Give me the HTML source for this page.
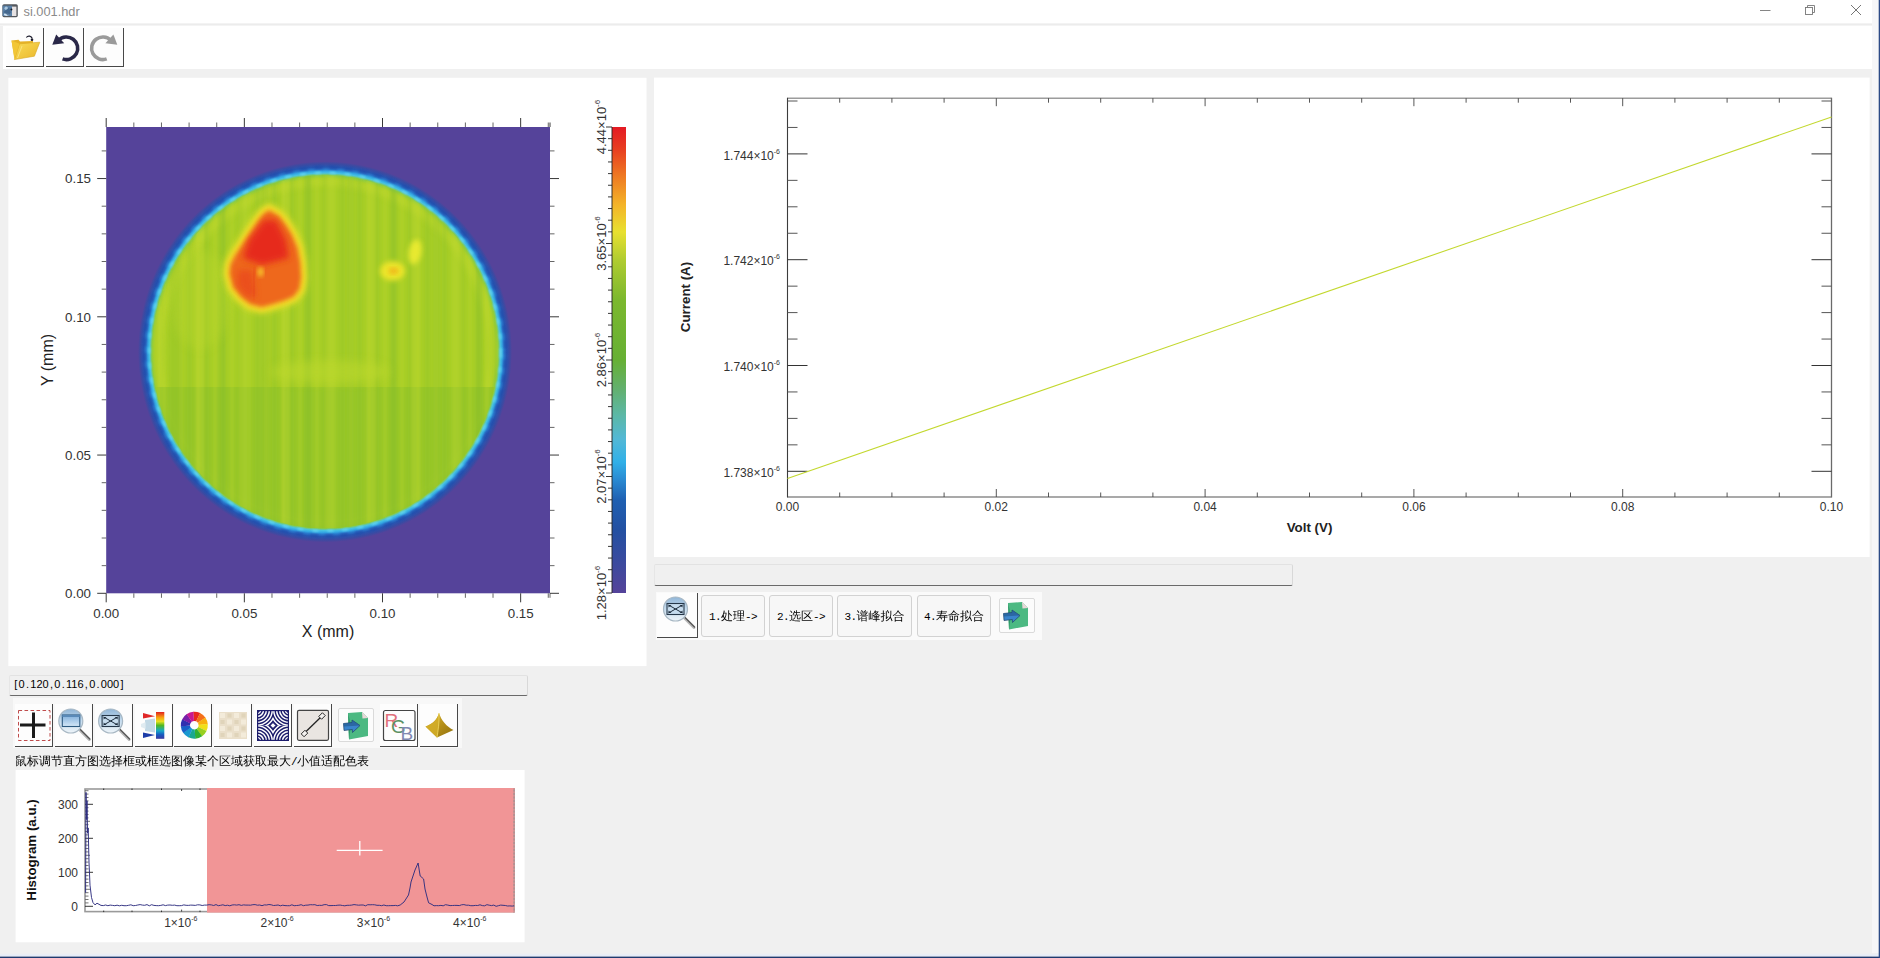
<!DOCTYPE html>
<html lang="zh"><head><meta charset="utf-8"><title>si.001.hdr</title>
<style>
html,body{margin:0;padding:0;}
body{width:1880px;height:958px;overflow:hidden;background:#f0f0f0;position:relative;font-family:"Liberation Sans",sans-serif;}
.abs{position:absolute;}
.white{background:#fff;}
.tb{position:absolute;background:#fdfdfd;border-right:1px solid #484848;border-bottom:1px solid #484848;box-sizing:border-box;}
.cj{font-family:"Liberation Sans","WenQuanYi Zen Hei",sans-serif;font-size:12px;color:#000;white-space:nowrap;}
.l{font-family:"Liberation Mono",monospace;font-size:11px;letter-spacing:-0.6px;}
.field{position:absolute;background:#f0f0f0;box-sizing:border-box;border-top:1px solid #e2e2e2;border-left:1px solid #e6e6e6;border-right:1px solid #d8d8d8;border-bottom:1px solid #6a6a6a;border-radius:2px;}
.pb{position:absolute;box-sizing:border-box;background:#f7f7f7;border:1px solid #d2d2d2;border-radius:3px;text-align:center;line-height:40px;}
i{font-style:normal;display:inline-block;width:5.6px;text-align:center;}
svg{position:absolute;left:0;top:0;overflow:visible;}
svg text{font-family:"Liberation Sans",sans-serif;}
</style></head><body>

<div class="abs white" style="left:0;top:0;width:1878px;height:23px;"></div>
<div class="abs" style="left:0;top:23px;width:1878px;height:3px;background:linear-gradient(#f6f6f6,#ececec 50%,#f8f8f8);"></div>
<div class="abs white" style="left:3px;top:26px;width:1872px;height:43px;"></div>
<div class="abs" style="left:23.5px;top:4.5px;font-size:12.8px;color:#8a8a8a;line-height:14px;letter-spacing:0px;">si.001.hdr</div>
<div class="tb" style="left:6px;top:28px;width:38px;height:39px;"></div>
<div class="tb" style="left:46px;top:28px;width:38px;height:39px;"></div>
<div class="tb" style="left:86px;top:28px;width:38px;height:39px;"></div>
<div class="abs" style="left:13px;top:698px;width:449px;height:50px;background:#f8f8f8;"></div>
<div class="tb" style="left:15px;top:704px;width:38px;height:43px;"></div>
<div class="tb" style="left:55px;top:704px;width:38px;height:43px;"></div>
<div class="tb" style="left:95px;top:704px;width:38px;height:43px;"></div>
<div class="tb" style="left:135px;top:704px;width:38px;height:43px;"></div>
<div class="tb" style="left:174px;top:704px;width:38px;height:43px;"></div>
<div class="tb" style="left:214px;top:704px;width:38px;height:43px;"></div>
<div class="tb" style="left:254px;top:704px;width:38px;height:43px;"></div>
<div class="tb" style="left:294px;top:704px;width:38px;height:43px;"></div>
<div class="tb" style="left:380px;top:704px;width:38px;height:43px;"></div>
<div class="tb" style="left:420px;top:704px;width:38px;height:43px;"></div>
<div class="abs" style="left:338px;top:708px;width:36px;height:34px;box-sizing:border-box;border:1px solid #dadada;border-radius:2px;background:#fcfcfc;"></div>
<svg width="1880" height="958" viewBox="0 0 1880 958"><rect x="8.35" y="77.8" width="638.2" height="588.3" fill="#fff"/><rect x="654.05" y="77.6" width="1215.6" height="479.4" fill="#fff"/><rect x="15.6" y="770" width="509" height="172.3" fill="#fff"/></svg>
<div class="field" style="left:9px;top:675px;width:519px;height:21px;"></div>
<div class="abs" style="left:13px;top:677px;font-size:11px;line-height:14px;color:#000;white-space:nowrap;"><i>[</i>0<i>.</i>120<i>,</i>0<i>.</i>116<i>,</i>0<i>.</i>000<i>]</i></div>
<div class="abs cj" style="left:15px;top:753px;line-height:16px;">鼠标调节直方图选择框或框选图像某个区域获取最大<span class="l">/</span>小值适配色表</div>
<div class="field" style="left:654px;top:564px;width:639px;height:22px;"></div>
<div class="abs" style="left:656px;top:592px;width:386px;height:48px;background:#fafafa;"></div>
<div class="tb" style="left:657px;top:593px;width:41px;height:45px;"></div>
<div class="pb cj" style="left:701px;top:595px;width:64px;height:42px;"><span class="l">1.</span>处理<span class="l">-&gt;</span></div>
<div class="pb cj" style="left:769px;top:595px;width:64px;height:42px;"><span class="l">2.</span>选区<span class="l">-&gt;</span></div>
<div class="pb cj" style="left:837px;top:595px;width:75px;height:42px;"><span class="l">3.</span>谱峰拟合</div>
<div class="pb cj" style="left:917px;top:595px;width:74px;height:42px;"><span class="l">4.</span>寿命拟合</div>
<div class="abs" style="left:999px;top:598px;width:36px;height:35px;box-sizing:border-box;border:1px solid #dadada;border-radius:2px;background:#fcfcfc;"></div>
<div class="abs" style="left:1872px;top:0;width:7px;height:958px;background:#f6f6f8;"></div>
<div class="abs" style="left:0;top:953px;width:1880px;height:3px;background:linear-gradient(#f0f0f0,#e4ecfa);"></div>
<svg width="1880" height="958" viewBox="0 0 1880 958">
<defs>
<linearGradient id="cbar" x1="0" y1="1" x2="0" y2="0">
<stop offset="0" stop-color="#55439a"/><stop offset="0.06" stop-color="#3d4a9e"/><stop offset="0.135" stop-color="#2350a2"/>
<stop offset="0.2" stop-color="#1f60b2"/><stop offset="0.243" stop-color="#2a8ad2"/><stop offset="0.281" stop-color="#30b0e8"/>
<stop offset="0.33" stop-color="#52b8d6"/><stop offset="0.382" stop-color="#5cb8a6"/><stop offset="0.436" stop-color="#62b070"/>
<stop offset="0.5" stop-color="#66b034"/><stop offset="0.63" stop-color="#7cb82e"/><stop offset="0.715" stop-color="#b0cc30"/>
<stop offset="0.775" stop-color="#e8e030"/><stop offset="0.833" stop-color="#f4b428"/><stop offset="0.897" stop-color="#ee7722"/>
<stop offset="0.95" stop-color="#e84020"/><stop offset="1" stop-color="#e41a24"/>
</linearGradient>
<filter id="b1" x="-20%" y="-20%" width="140%" height="140%"><feGaussianBlur stdDeviation="1"/></filter>
<filter id="b2" x="-20%" y="-20%" width="140%" height="140%"><feGaussianBlur stdDeviation="2"/></filter>
<filter id="b3" x="-30%" y="-30%" width="160%" height="160%"><feGaussianBlur stdDeviation="3"/></filter>
<filter id="b5" x="-30%" y="-30%" width="160%" height="160%"><feGaussianBlur stdDeviation="5"/></filter>
<clipPath id="hm"><rect x="106.2" y="127" width="443.8" height="466.3"/></clipPath>
<clipPath id="disc"><ellipse cx="325" cy="351.8" rx="173" ry="176.5"/></clipPath>
<pattern id="stripes" x="0" y="0" width="17" height="10" patternUnits="userSpaceOnUse"><rect x="0" y="0" width="5" height="10" fill="#86bc2a" opacity="0.22"/><rect x="9" y="0" width="4" height="10" fill="#c6dc2e" opacity="0.2"/></pattern>
<pattern id="stripes2" x="3" y="0" width="43" height="10" patternUnits="userSpaceOnUse"><rect x="0" y="0" width="7" height="10" fill="#84ba2a" opacity="0.2"/><rect x="21" y="0" width="8" height="10" fill="#cce02e" opacity="0.22"/></pattern>
<filter id="b25" x="-80%" y="-80%" width="260%" height="260%"><feGaussianBlur stdDeviation="2.6"/></filter>
<radialGradient id="rim" cx="0.5" cy="0.5" r="0.5">
<stop offset="0" stop-color="#a7ce27"/><stop offset="0.908" stop-color="#a7ce27"/><stop offset="0.926" stop-color="#86ca44"/><stop offset="0.938" stop-color="#46c2e6"/><stop offset="0.948" stop-color="#34a8e4"/>
<stop offset="0.958" stop-color="#2a78cc"/><stop offset="0.970" stop-color="#2656b2"/><stop offset="0.988" stop-color="#3c4aa2"/><stop offset="1" stop-color="#55439a"/>
</radialGradient>
<filter id="b15" x="-20%" y="-20%" width="140%" height="140%"><feGaussianBlur stdDeviation="1.4"/></filter>
</defs>
<rect x="106.2" y="127" width="443.8" height="466.29999999999995" fill="#55439a"/>
<g clip-path="url(#hm)">
<ellipse cx="325" cy="351.8" rx="187" ry="190.5" fill="url(#rim)"/>
<ellipse cx="325" cy="351.8" rx="175.6" ry="179" fill="none" stroke="#66d6f4" stroke-width="2.6" stroke-dasharray="6 9" opacity="0.8" filter="url(#b1)"/>
<ellipse cx="325" cy="351.8" rx="180.5" ry="184" fill="none" stroke="#2346a8" stroke-width="3.5" stroke-dasharray="8 7" stroke-dashoffset="7" opacity="0.55" filter="url(#b1)"/>
<ellipse cx="325.5" cy="351.8" rx="167" ry="170" fill="none" stroke="#c6dc30" stroke-width="7" opacity="0.5" filter="url(#b3)"/>
<g clip-path="url(#disc)"><rect x="106" y="387" width="444" height="210" fill="#95c629" opacity="0.85"/>
<g filter="url(#b1)"><rect x="106" y="127" width="444" height="466" fill="url(#stripes)"/>
<rect x="106" y="127" width="444" height="466" fill="url(#stripes2)"/></g>
<ellipse cx="330" cy="372" rx="60" ry="12" fill="#c0da2e" opacity="0.5" filter="url(#b5)"/>
<ellipse cx="200" cy="300" rx="30" ry="50" fill="#bcd82e" opacity="0.35" filter="url(#b5)"/>
</g>
<path d="M269.1,210.2 L278.5,215.8 L286,225.2 L291.7,234.6 L297.3,247.7 L300.1,262.8 L301,277.8 L299.2,289.1 L293.5,296.6 L284.1,300.4 L272.9,304.1 L261.6,307 L250.3,304.1 L240.9,296.6 L233.4,287.2 L229.6,274.1 L230.6,264.7 L235.3,255.3 L242.8,244 L250.3,232.7 L257.8,221.4 L263.5,213.9 Z" fill="#e8e02c" stroke="#e8e02c" stroke-width="13" stroke-linejoin="round" filter="url(#b3)" opacity="0.95"/>
<path d="M269.1,210.2 L278.5,215.8 L286,225.2 L291.7,234.6 L297.3,247.7 L300.1,262.8 L301,277.8 L299.2,289.1 L293.5,296.6 L284.1,300.4 L272.9,304.1 L261.6,307 L250.3,304.1 L240.9,296.6 L233.4,287.2 L229.6,274.1 L230.6,264.7 L235.3,255.3 L242.8,244 L250.3,232.7 L257.8,221.4 L263.5,213.9 Z" fill="#f2d428" stroke="#f2d428" stroke-width="7.5" stroke-linejoin="round" filter="url(#b2)"/>
<path d="M269.1,210.2 L278.5,215.8 L286,225.2 L291.7,234.6 L297.3,247.7 L300.1,262.8 L301,277.8 L299.2,289.1 L293.5,296.6 L284.1,300.4 L272.9,304.1 L261.6,307 L250.3,304.1 L240.9,296.6 L233.4,287.2 L229.6,274.1 L230.6,264.7 L235.3,255.3 L242.8,244 L250.3,232.7 L257.8,221.4 L263.5,213.9 Z" fill="#ee681e" filter="url(#b2)"/>
<path d="M264,220 L276,220 L286,240 L289,258 L262,265 L243,258 L249,240 Z" fill="#e62c1c" filter="url(#b3)"/>
<path d="M238,270 L252,270 L256,297 L247,297 L237,285 Z" fill="#ea4a1c" opacity="0.8" filter="url(#b3)"/>
<path d="M253.5,268 L254,298" stroke="#e23a1c" stroke-width="3" opacity="0.45" filter="url(#b2)"/>
<ellipse cx="260.6" cy="272" rx="3" ry="5" fill="#f6c02a" filter="url(#b2)"/>
<ellipse cx="392.5" cy="271" rx="12.5" ry="10" fill="#f2e62a" opacity="0.92" filter="url(#b25)"/>
<ellipse cx="393.5" cy="271" rx="5" ry="3.4" fill="#f0b81c" opacity="0.9" filter="url(#b2)"/>
<ellipse cx="415" cy="252" rx="6.5" ry="12.5" fill="#f2ee30" transform="rotate(10 415 252)" opacity="0.85" filter="url(#b25)"/>
</g>
<line x1="106.20" y1="593.30" x2="106.20" y2="602.30" stroke="#222" stroke-width="0.9"/>
<line x1="106.20" y1="127.00" x2="106.20" y2="118.00" stroke="#222" stroke-width="0.9"/>
<line x1="133.83" y1="593.30" x2="133.83" y2="597.80" stroke="#555" stroke-width="0.9"/>
<line x1="133.83" y1="127.00" x2="133.83" y2="122.50" stroke="#555" stroke-width="0.9"/>
<line x1="161.46" y1="593.30" x2="161.46" y2="597.80" stroke="#555" stroke-width="0.9"/>
<line x1="161.46" y1="127.00" x2="161.46" y2="122.50" stroke="#555" stroke-width="0.9"/>
<line x1="189.09" y1="593.30" x2="189.09" y2="597.80" stroke="#555" stroke-width="0.9"/>
<line x1="189.09" y1="127.00" x2="189.09" y2="122.50" stroke="#555" stroke-width="0.9"/>
<line x1="216.72" y1="593.30" x2="216.72" y2="597.80" stroke="#555" stroke-width="0.9"/>
<line x1="216.72" y1="127.00" x2="216.72" y2="122.50" stroke="#555" stroke-width="0.9"/>
<line x1="244.35" y1="593.30" x2="244.35" y2="602.30" stroke="#222" stroke-width="0.9"/>
<line x1="244.35" y1="127.00" x2="244.35" y2="118.00" stroke="#222" stroke-width="0.9"/>
<line x1="271.98" y1="593.30" x2="271.98" y2="597.80" stroke="#555" stroke-width="0.9"/>
<line x1="271.98" y1="127.00" x2="271.98" y2="122.50" stroke="#555" stroke-width="0.9"/>
<line x1="299.61" y1="593.30" x2="299.61" y2="597.80" stroke="#555" stroke-width="0.9"/>
<line x1="299.61" y1="127.00" x2="299.61" y2="122.50" stroke="#555" stroke-width="0.9"/>
<line x1="327.24" y1="593.30" x2="327.24" y2="597.80" stroke="#555" stroke-width="0.9"/>
<line x1="327.24" y1="127.00" x2="327.24" y2="122.50" stroke="#555" stroke-width="0.9"/>
<line x1="354.87" y1="593.30" x2="354.87" y2="597.80" stroke="#555" stroke-width="0.9"/>
<line x1="354.87" y1="127.00" x2="354.87" y2="122.50" stroke="#555" stroke-width="0.9"/>
<line x1="382.50" y1="593.30" x2="382.50" y2="602.30" stroke="#222" stroke-width="0.9"/>
<line x1="382.50" y1="127.00" x2="382.50" y2="118.00" stroke="#222" stroke-width="0.9"/>
<line x1="410.13" y1="593.30" x2="410.13" y2="597.80" stroke="#555" stroke-width="0.9"/>
<line x1="410.13" y1="127.00" x2="410.13" y2="122.50" stroke="#555" stroke-width="0.9"/>
<line x1="437.76" y1="593.30" x2="437.76" y2="597.80" stroke="#555" stroke-width="0.9"/>
<line x1="437.76" y1="127.00" x2="437.76" y2="122.50" stroke="#555" stroke-width="0.9"/>
<line x1="465.39" y1="593.30" x2="465.39" y2="597.80" stroke="#555" stroke-width="0.9"/>
<line x1="465.39" y1="127.00" x2="465.39" y2="122.50" stroke="#555" stroke-width="0.9"/>
<line x1="493.02" y1="593.30" x2="493.02" y2="597.80" stroke="#555" stroke-width="0.9"/>
<line x1="493.02" y1="127.00" x2="493.02" y2="122.50" stroke="#555" stroke-width="0.9"/>
<line x1="520.65" y1="593.30" x2="520.65" y2="602.30" stroke="#222" stroke-width="0.9"/>
<line x1="520.65" y1="127.00" x2="520.65" y2="118.00" stroke="#222" stroke-width="0.9"/>
<line x1="548.28" y1="593.30" x2="548.28" y2="597.80" stroke="#555" stroke-width="0.9"/>
<line x1="548.28" y1="127.00" x2="548.28" y2="122.50" stroke="#555" stroke-width="0.9"/>
<line x1="550.00" y1="593.30" x2="550.00" y2="597.80" stroke="#555" stroke-width="0.9"/>
<line x1="550.00" y1="127.00" x2="550.00" y2="122.50" stroke="#222" stroke-width="0.9"/>
<line x1="97.20" y1="593.30" x2="106.20" y2="593.30" stroke="#222" stroke-width="0.9"/>
<line x1="550.00" y1="593.30" x2="559.00" y2="593.30" stroke="#222" stroke-width="0.9"/>
<line x1="101.70" y1="565.65" x2="106.20" y2="565.65" stroke="#555" stroke-width="0.9"/>
<line x1="550.00" y1="565.65" x2="554.50" y2="565.65" stroke="#555" stroke-width="0.9"/>
<line x1="101.70" y1="538.00" x2="106.20" y2="538.00" stroke="#555" stroke-width="0.9"/>
<line x1="550.00" y1="538.00" x2="554.50" y2="538.00" stroke="#555" stroke-width="0.9"/>
<line x1="101.70" y1="510.35" x2="106.20" y2="510.35" stroke="#555" stroke-width="0.9"/>
<line x1="550.00" y1="510.35" x2="554.50" y2="510.35" stroke="#555" stroke-width="0.9"/>
<line x1="101.70" y1="482.70" x2="106.20" y2="482.70" stroke="#555" stroke-width="0.9"/>
<line x1="550.00" y1="482.70" x2="554.50" y2="482.70" stroke="#555" stroke-width="0.9"/>
<line x1="97.20" y1="455.05" x2="106.20" y2="455.05" stroke="#222" stroke-width="0.9"/>
<line x1="550.00" y1="455.05" x2="559.00" y2="455.05" stroke="#222" stroke-width="0.9"/>
<line x1="101.70" y1="427.40" x2="106.20" y2="427.40" stroke="#555" stroke-width="0.9"/>
<line x1="550.00" y1="427.40" x2="554.50" y2="427.40" stroke="#555" stroke-width="0.9"/>
<line x1="101.70" y1="399.75" x2="106.20" y2="399.75" stroke="#555" stroke-width="0.9"/>
<line x1="550.00" y1="399.75" x2="554.50" y2="399.75" stroke="#555" stroke-width="0.9"/>
<line x1="101.70" y1="372.10" x2="106.20" y2="372.10" stroke="#555" stroke-width="0.9"/>
<line x1="550.00" y1="372.10" x2="554.50" y2="372.10" stroke="#555" stroke-width="0.9"/>
<line x1="101.70" y1="344.45" x2="106.20" y2="344.45" stroke="#555" stroke-width="0.9"/>
<line x1="550.00" y1="344.45" x2="554.50" y2="344.45" stroke="#555" stroke-width="0.9"/>
<line x1="97.20" y1="316.80" x2="106.20" y2="316.80" stroke="#222" stroke-width="0.9"/>
<line x1="550.00" y1="316.80" x2="559.00" y2="316.80" stroke="#222" stroke-width="0.9"/>
<line x1="101.70" y1="289.15" x2="106.20" y2="289.15" stroke="#555" stroke-width="0.9"/>
<line x1="550.00" y1="289.15" x2="554.50" y2="289.15" stroke="#555" stroke-width="0.9"/>
<line x1="101.70" y1="261.50" x2="106.20" y2="261.50" stroke="#555" stroke-width="0.9"/>
<line x1="550.00" y1="261.50" x2="554.50" y2="261.50" stroke="#555" stroke-width="0.9"/>
<line x1="101.70" y1="233.85" x2="106.20" y2="233.85" stroke="#555" stroke-width="0.9"/>
<line x1="550.00" y1="233.85" x2="554.50" y2="233.85" stroke="#555" stroke-width="0.9"/>
<line x1="101.70" y1="206.20" x2="106.20" y2="206.20" stroke="#555" stroke-width="0.9"/>
<line x1="550.00" y1="206.20" x2="554.50" y2="206.20" stroke="#555" stroke-width="0.9"/>
<line x1="97.20" y1="178.55" x2="106.20" y2="178.55" stroke="#222" stroke-width="0.9"/>
<line x1="550.00" y1="178.55" x2="559.00" y2="178.55" stroke="#222" stroke-width="0.9"/>
<line x1="101.70" y1="150.90" x2="106.20" y2="150.90" stroke="#555" stroke-width="0.9"/>
<line x1="550.00" y1="150.90" x2="554.50" y2="150.90" stroke="#555" stroke-width="0.9"/>
<text x="106.2" y="617.5" font-size="13.33" text-anchor="middle" fill="#333" font-weight="normal" >0.00</text>
<text x="91" y="598.1" font-size="13.33" text-anchor="end" fill="#333" font-weight="normal" >0.00</text>
<text x="244.4" y="617.5" font-size="13.33" text-anchor="middle" fill="#333" font-weight="normal" >0.05</text>
<text x="91" y="459.8" font-size="13.33" text-anchor="end" fill="#333" font-weight="normal" >0.05</text>
<text x="382.5" y="617.5" font-size="13.33" text-anchor="middle" fill="#333" font-weight="normal" >0.10</text>
<text x="91" y="321.6" font-size="13.33" text-anchor="end" fill="#333" font-weight="normal" >0.10</text>
<text x="520.7" y="617.5" font-size="13.33" text-anchor="middle" fill="#333" font-weight="normal" >0.15</text>
<text x="91" y="183.3" font-size="13.33" text-anchor="end" fill="#333" font-weight="normal" >0.15</text>
<text x="328" y="636.5" font-size="16" text-anchor="middle" fill="#222" font-weight="normal" >X (mm)</text>
<text transform="translate(53,360) rotate(-90)" font-size="16" text-anchor="middle" fill="#222">Y (mm)</text>
<rect x="612" y="127" width="14" height="466" fill="url(#cbar)"/>
<line x1="612.00" y1="127.00" x2="612.00" y2="593.00" stroke="#222" stroke-width="0.9"/>
<line x1="606.00" y1="127.00" x2="612.00" y2="127.00" stroke="#222" stroke-width="0.9"/>
<line x1="608.00" y1="138.65" x2="612.00" y2="138.65" stroke="#222" stroke-width="0.9"/>
<line x1="608.00" y1="150.30" x2="612.00" y2="150.30" stroke="#222" stroke-width="0.9"/>
<line x1="608.00" y1="161.95" x2="612.00" y2="161.95" stroke="#222" stroke-width="0.9"/>
<line x1="608.00" y1="173.60" x2="612.00" y2="173.60" stroke="#222" stroke-width="0.9"/>
<line x1="608.00" y1="185.25" x2="612.00" y2="185.25" stroke="#222" stroke-width="0.9"/>
<line x1="608.00" y1="196.90" x2="612.00" y2="196.90" stroke="#222" stroke-width="0.9"/>
<line x1="608.00" y1="208.55" x2="612.00" y2="208.55" stroke="#222" stroke-width="0.9"/>
<line x1="608.00" y1="220.20" x2="612.00" y2="220.20" stroke="#222" stroke-width="0.9"/>
<line x1="608.00" y1="231.85" x2="612.00" y2="231.85" stroke="#222" stroke-width="0.9"/>
<line x1="606.00" y1="243.50" x2="612.00" y2="243.50" stroke="#222" stroke-width="0.9"/>
<line x1="608.00" y1="255.15" x2="612.00" y2="255.15" stroke="#222" stroke-width="0.9"/>
<line x1="608.00" y1="266.80" x2="612.00" y2="266.80" stroke="#222" stroke-width="0.9"/>
<line x1="608.00" y1="278.45" x2="612.00" y2="278.45" stroke="#222" stroke-width="0.9"/>
<line x1="608.00" y1="290.10" x2="612.00" y2="290.10" stroke="#222" stroke-width="0.9"/>
<line x1="608.00" y1="301.75" x2="612.00" y2="301.75" stroke="#222" stroke-width="0.9"/>
<line x1="608.00" y1="313.40" x2="612.00" y2="313.40" stroke="#222" stroke-width="0.9"/>
<line x1="608.00" y1="325.05" x2="612.00" y2="325.05" stroke="#222" stroke-width="0.9"/>
<line x1="608.00" y1="336.70" x2="612.00" y2="336.70" stroke="#222" stroke-width="0.9"/>
<line x1="608.00" y1="348.35" x2="612.00" y2="348.35" stroke="#222" stroke-width="0.9"/>
<line x1="606.00" y1="360.00" x2="612.00" y2="360.00" stroke="#222" stroke-width="0.9"/>
<line x1="608.00" y1="371.65" x2="612.00" y2="371.65" stroke="#222" stroke-width="0.9"/>
<line x1="608.00" y1="383.30" x2="612.00" y2="383.30" stroke="#222" stroke-width="0.9"/>
<line x1="608.00" y1="394.95" x2="612.00" y2="394.95" stroke="#222" stroke-width="0.9"/>
<line x1="608.00" y1="406.60" x2="612.00" y2="406.60" stroke="#222" stroke-width="0.9"/>
<line x1="608.00" y1="418.25" x2="612.00" y2="418.25" stroke="#222" stroke-width="0.9"/>
<line x1="608.00" y1="429.90" x2="612.00" y2="429.90" stroke="#222" stroke-width="0.9"/>
<line x1="608.00" y1="441.55" x2="612.00" y2="441.55" stroke="#222" stroke-width="0.9"/>
<line x1="608.00" y1="453.20" x2="612.00" y2="453.20" stroke="#222" stroke-width="0.9"/>
<line x1="608.00" y1="464.85" x2="612.00" y2="464.85" stroke="#222" stroke-width="0.9"/>
<line x1="606.00" y1="476.50" x2="612.00" y2="476.50" stroke="#222" stroke-width="0.9"/>
<line x1="608.00" y1="488.15" x2="612.00" y2="488.15" stroke="#222" stroke-width="0.9"/>
<line x1="608.00" y1="499.80" x2="612.00" y2="499.80" stroke="#222" stroke-width="0.9"/>
<line x1="608.00" y1="511.45" x2="612.00" y2="511.45" stroke="#222" stroke-width="0.9"/>
<line x1="608.00" y1="523.10" x2="612.00" y2="523.10" stroke="#222" stroke-width="0.9"/>
<line x1="608.00" y1="534.75" x2="612.00" y2="534.75" stroke="#222" stroke-width="0.9"/>
<line x1="608.00" y1="546.40" x2="612.00" y2="546.40" stroke="#222" stroke-width="0.9"/>
<line x1="608.00" y1="558.05" x2="612.00" y2="558.05" stroke="#222" stroke-width="0.9"/>
<line x1="608.00" y1="569.70" x2="612.00" y2="569.70" stroke="#222" stroke-width="0.9"/>
<line x1="608.00" y1="581.35" x2="612.00" y2="581.35" stroke="#222" stroke-width="0.9"/>
<line x1="606.00" y1="593.00" x2="612.00" y2="593.00" stroke="#222" stroke-width="0.9"/>
<text transform="translate(606.2,127.0) rotate(-90)" font-size="13" text-anchor="middle" fill="#333">4.44×10<tspan font-size="8" dy="-6">-6</tspan></text>
<text transform="translate(606.2,243.5) rotate(-90)" font-size="13" text-anchor="middle" fill="#333">3.65×10<tspan font-size="8" dy="-6">-6</tspan></text>
<text transform="translate(606.2,360.0) rotate(-90)" font-size="13" text-anchor="middle" fill="#333">2.86×10<tspan font-size="8" dy="-6">-6</tspan></text>
<text transform="translate(606.2,476.5) rotate(-90)" font-size="13" text-anchor="middle" fill="#333">2.07×10<tspan font-size="8" dy="-6">-6</tspan></text>
<text transform="translate(606.2,593.0) rotate(-90)" font-size="13" text-anchor="middle" fill="#333">1.28×10<tspan font-size="8" dy="-6">-6</tspan></text>
<line x1="787.50" y1="98.20" x2="1831.50" y2="98.20" stroke="#9c9c9c" stroke-width="1.4"/>
<line x1="787.50" y1="497.00" x2="1831.50" y2="497.00" stroke="#8c8c8c" stroke-width="1.5"/>
<line x1="787.50" y1="97.70" x2="787.50" y2="497.60" stroke="#3c3c3c" stroke-width="1.1"/>
<line x1="1831.50" y1="97.70" x2="1831.50" y2="497.60" stroke="#6a6a6a" stroke-width="1.3"/>
<line x1="839.70" y1="497.00" x2="839.70" y2="492.50" stroke="#444" stroke-width="0.9"/>
<line x1="839.70" y1="98.20" x2="839.70" y2="102.70" stroke="#444" stroke-width="0.9"/>
<line x1="891.90" y1="497.00" x2="891.90" y2="492.50" stroke="#444" stroke-width="0.9"/>
<line x1="891.90" y1="98.20" x2="891.90" y2="102.70" stroke="#444" stroke-width="0.9"/>
<line x1="944.10" y1="497.00" x2="944.10" y2="492.50" stroke="#444" stroke-width="0.9"/>
<line x1="944.10" y1="98.20" x2="944.10" y2="102.70" stroke="#444" stroke-width="0.9"/>
<line x1="996.30" y1="497.00" x2="996.30" y2="489.00" stroke="#444" stroke-width="0.9"/>
<line x1="996.30" y1="98.20" x2="996.30" y2="106.20" stroke="#444" stroke-width="0.9"/>
<line x1="1048.50" y1="497.00" x2="1048.50" y2="492.50" stroke="#444" stroke-width="0.9"/>
<line x1="1048.50" y1="98.20" x2="1048.50" y2="102.70" stroke="#444" stroke-width="0.9"/>
<line x1="1100.70" y1="497.00" x2="1100.70" y2="492.50" stroke="#444" stroke-width="0.9"/>
<line x1="1100.70" y1="98.20" x2="1100.70" y2="102.70" stroke="#444" stroke-width="0.9"/>
<line x1="1152.90" y1="497.00" x2="1152.90" y2="492.50" stroke="#444" stroke-width="0.9"/>
<line x1="1152.90" y1="98.20" x2="1152.90" y2="102.70" stroke="#444" stroke-width="0.9"/>
<line x1="1205.10" y1="497.00" x2="1205.10" y2="489.00" stroke="#444" stroke-width="0.9"/>
<line x1="1205.10" y1="98.20" x2="1205.10" y2="106.20" stroke="#444" stroke-width="0.9"/>
<line x1="1257.30" y1="497.00" x2="1257.30" y2="492.50" stroke="#444" stroke-width="0.9"/>
<line x1="1257.30" y1="98.20" x2="1257.30" y2="102.70" stroke="#444" stroke-width="0.9"/>
<line x1="1309.50" y1="497.00" x2="1309.50" y2="492.50" stroke="#444" stroke-width="0.9"/>
<line x1="1309.50" y1="98.20" x2="1309.50" y2="102.70" stroke="#444" stroke-width="0.9"/>
<line x1="1361.70" y1="497.00" x2="1361.70" y2="492.50" stroke="#444" stroke-width="0.9"/>
<line x1="1361.70" y1="98.20" x2="1361.70" y2="102.70" stroke="#444" stroke-width="0.9"/>
<line x1="1413.90" y1="497.00" x2="1413.90" y2="489.00" stroke="#444" stroke-width="0.9"/>
<line x1="1413.90" y1="98.20" x2="1413.90" y2="106.20" stroke="#444" stroke-width="0.9"/>
<line x1="1466.10" y1="497.00" x2="1466.10" y2="492.50" stroke="#444" stroke-width="0.9"/>
<line x1="1466.10" y1="98.20" x2="1466.10" y2="102.70" stroke="#444" stroke-width="0.9"/>
<line x1="1518.30" y1="497.00" x2="1518.30" y2="492.50" stroke="#444" stroke-width="0.9"/>
<line x1="1518.30" y1="98.20" x2="1518.30" y2="102.70" stroke="#444" stroke-width="0.9"/>
<line x1="1570.50" y1="497.00" x2="1570.50" y2="492.50" stroke="#444" stroke-width="0.9"/>
<line x1="1570.50" y1="98.20" x2="1570.50" y2="102.70" stroke="#444" stroke-width="0.9"/>
<line x1="1622.70" y1="497.00" x2="1622.70" y2="489.00" stroke="#444" stroke-width="0.9"/>
<line x1="1622.70" y1="98.20" x2="1622.70" y2="106.20" stroke="#444" stroke-width="0.9"/>
<line x1="1674.90" y1="497.00" x2="1674.90" y2="492.50" stroke="#444" stroke-width="0.9"/>
<line x1="1674.90" y1="98.20" x2="1674.90" y2="102.70" stroke="#444" stroke-width="0.9"/>
<line x1="1727.10" y1="497.00" x2="1727.10" y2="492.50" stroke="#444" stroke-width="0.9"/>
<line x1="1727.10" y1="98.20" x2="1727.10" y2="102.70" stroke="#444" stroke-width="0.9"/>
<line x1="1779.30" y1="497.00" x2="1779.30" y2="492.50" stroke="#444" stroke-width="0.9"/>
<line x1="1779.30" y1="98.20" x2="1779.30" y2="102.70" stroke="#444" stroke-width="0.9"/>
<line x1="787.50" y1="101.00" x2="797.50" y2="101.00" stroke="#555" stroke-width="1.0"/>
<line x1="1831.50" y1="101.00" x2="1821.50" y2="101.00" stroke="#555" stroke-width="1.0"/>
<line x1="787.50" y1="127.45" x2="797.50" y2="127.45" stroke="#555" stroke-width="1.0"/>
<line x1="1831.50" y1="127.45" x2="1821.50" y2="127.45" stroke="#555" stroke-width="1.0"/>
<line x1="787.50" y1="153.90" x2="807.50" y2="153.90" stroke="#333" stroke-width="1.0"/>
<line x1="1831.50" y1="153.90" x2="1811.50" y2="153.90" stroke="#333" stroke-width="1.0"/>
<line x1="787.50" y1="180.35" x2="797.50" y2="180.35" stroke="#555" stroke-width="1.0"/>
<line x1="1831.50" y1="180.35" x2="1821.50" y2="180.35" stroke="#555" stroke-width="1.0"/>
<line x1="787.50" y1="206.80" x2="797.50" y2="206.80" stroke="#555" stroke-width="1.0"/>
<line x1="1831.50" y1="206.80" x2="1821.50" y2="206.80" stroke="#555" stroke-width="1.0"/>
<line x1="787.50" y1="233.25" x2="797.50" y2="233.25" stroke="#555" stroke-width="1.0"/>
<line x1="1831.50" y1="233.25" x2="1821.50" y2="233.25" stroke="#555" stroke-width="1.0"/>
<line x1="787.50" y1="259.70" x2="807.50" y2="259.70" stroke="#333" stroke-width="1.0"/>
<line x1="1831.50" y1="259.70" x2="1811.50" y2="259.70" stroke="#333" stroke-width="1.0"/>
<line x1="787.50" y1="286.15" x2="797.50" y2="286.15" stroke="#555" stroke-width="1.0"/>
<line x1="1831.50" y1="286.15" x2="1821.50" y2="286.15" stroke="#555" stroke-width="1.0"/>
<line x1="787.50" y1="312.60" x2="797.50" y2="312.60" stroke="#555" stroke-width="1.0"/>
<line x1="1831.50" y1="312.60" x2="1821.50" y2="312.60" stroke="#555" stroke-width="1.0"/>
<line x1="787.50" y1="339.05" x2="797.50" y2="339.05" stroke="#555" stroke-width="1.0"/>
<line x1="1831.50" y1="339.05" x2="1821.50" y2="339.05" stroke="#555" stroke-width="1.0"/>
<line x1="787.50" y1="365.50" x2="807.50" y2="365.50" stroke="#333" stroke-width="1.0"/>
<line x1="1831.50" y1="365.50" x2="1811.50" y2="365.50" stroke="#333" stroke-width="1.0"/>
<line x1="787.50" y1="391.95" x2="797.50" y2="391.95" stroke="#555" stroke-width="1.0"/>
<line x1="1831.50" y1="391.95" x2="1821.50" y2="391.95" stroke="#555" stroke-width="1.0"/>
<line x1="787.50" y1="418.40" x2="797.50" y2="418.40" stroke="#555" stroke-width="1.0"/>
<line x1="1831.50" y1="418.40" x2="1821.50" y2="418.40" stroke="#555" stroke-width="1.0"/>
<line x1="787.50" y1="444.85" x2="797.50" y2="444.85" stroke="#555" stroke-width="1.0"/>
<line x1="1831.50" y1="444.85" x2="1821.50" y2="444.85" stroke="#555" stroke-width="1.0"/>
<line x1="787.50" y1="471.30" x2="807.50" y2="471.30" stroke="#333" stroke-width="1.0"/>
<line x1="1831.50" y1="471.30" x2="1811.50" y2="471.30" stroke="#333" stroke-width="1.0"/>
<text x="780" y="159.5" font-size="12" text-anchor="end" fill="#333">1.744×10<tspan font-size="7" dy="-6">-6</tspan></text>
<text x="780" y="265.3" font-size="12" text-anchor="end" fill="#333">1.742×10<tspan font-size="7" dy="-6">-6</tspan></text>
<text x="780" y="371.1" font-size="12" text-anchor="end" fill="#333">1.740×10<tspan font-size="7" dy="-6">-6</tspan></text>
<text x="780" y="476.9" font-size="12" text-anchor="end" fill="#333">1.738×10<tspan font-size="7" dy="-6">-6</tspan></text>
<text x="787.5" y="510.6" font-size="12" text-anchor="middle" fill="#333" font-weight="normal" >0.00</text>
<text x="996.3" y="510.6" font-size="12" text-anchor="middle" fill="#333" font-weight="normal" >0.02</text>
<text x="1205.1" y="510.6" font-size="12" text-anchor="middle" fill="#333" font-weight="normal" >0.04</text>
<text x="1413.9" y="510.6" font-size="12" text-anchor="middle" fill="#333" font-weight="normal" >0.06</text>
<text x="1622.7" y="510.6" font-size="12" text-anchor="middle" fill="#333" font-weight="normal" >0.08</text>
<text x="1831.5" y="510.6" font-size="12" text-anchor="middle" fill="#333" font-weight="normal" >0.10</text>
<text x="1309.5" y="531.8" font-size="13.33" text-anchor="middle" fill="#222" font-weight="bold" >Volt (V)</text>
<text transform="translate(689.5,297) rotate(-90)" font-size="13.33" text-anchor="middle" fill="#222" font-weight="bold">Current (A)</text>
<line x1="787.50" y1="478.50" x2="1831.50" y2="117.00" stroke="#c3d82e" stroke-width="1.1"/>
<rect x="85" y="789" width="429" height="122.60000000000002" fill="none" stroke="#9a9a9a" stroke-width="1.6"/>
<rect x="207" y="788" width="307.6" height="124.60000000000002" fill="#f19596"/>
<line x1="514.00" y1="788.00" x2="514.00" y2="912.60" stroke="#8a8a8a" stroke-width="1"/>
<line x1="514" y1="788" x2="514" y2="912.6" stroke="#f19596" stroke-width="1" stroke-dasharray="1.5 2"/>
<line x1="85.00" y1="906.30" x2="93.00" y2="906.30" stroke="#222" stroke-width="0.9"/>
<line x1="85.00" y1="902.90" x2="88.50" y2="902.90" stroke="#666" stroke-width="0.9"/>
<line x1="85.00" y1="899.50" x2="88.50" y2="899.50" stroke="#666" stroke-width="0.9"/>
<line x1="85.00" y1="896.10" x2="88.50" y2="896.10" stroke="#666" stroke-width="0.9"/>
<line x1="85.00" y1="892.70" x2="88.50" y2="892.70" stroke="#666" stroke-width="0.9"/>
<line x1="85.00" y1="889.30" x2="90.00" y2="889.30" stroke="#666" stroke-width="0.9"/>
<line x1="85.00" y1="885.90" x2="88.50" y2="885.90" stroke="#666" stroke-width="0.9"/>
<line x1="85.00" y1="882.50" x2="88.50" y2="882.50" stroke="#666" stroke-width="0.9"/>
<line x1="85.00" y1="879.10" x2="88.50" y2="879.10" stroke="#666" stroke-width="0.9"/>
<line x1="85.00" y1="875.70" x2="88.50" y2="875.70" stroke="#666" stroke-width="0.9"/>
<line x1="85.00" y1="872.30" x2="93.00" y2="872.30" stroke="#222" stroke-width="0.9"/>
<line x1="85.00" y1="868.90" x2="88.50" y2="868.90" stroke="#666" stroke-width="0.9"/>
<line x1="85.00" y1="865.50" x2="88.50" y2="865.50" stroke="#666" stroke-width="0.9"/>
<line x1="85.00" y1="862.10" x2="88.50" y2="862.10" stroke="#666" stroke-width="0.9"/>
<line x1="85.00" y1="858.70" x2="88.50" y2="858.70" stroke="#666" stroke-width="0.9"/>
<line x1="85.00" y1="855.30" x2="90.00" y2="855.30" stroke="#666" stroke-width="0.9"/>
<line x1="85.00" y1="851.90" x2="88.50" y2="851.90" stroke="#666" stroke-width="0.9"/>
<line x1="85.00" y1="848.50" x2="88.50" y2="848.50" stroke="#666" stroke-width="0.9"/>
<line x1="85.00" y1="845.10" x2="88.50" y2="845.10" stroke="#666" stroke-width="0.9"/>
<line x1="85.00" y1="841.70" x2="88.50" y2="841.70" stroke="#666" stroke-width="0.9"/>
<line x1="85.00" y1="838.30" x2="93.00" y2="838.30" stroke="#222" stroke-width="0.9"/>
<line x1="85.00" y1="834.90" x2="88.50" y2="834.90" stroke="#666" stroke-width="0.9"/>
<line x1="85.00" y1="831.50" x2="88.50" y2="831.50" stroke="#666" stroke-width="0.9"/>
<line x1="85.00" y1="828.10" x2="88.50" y2="828.10" stroke="#666" stroke-width="0.9"/>
<line x1="85.00" y1="824.70" x2="88.50" y2="824.70" stroke="#666" stroke-width="0.9"/>
<line x1="85.00" y1="821.30" x2="90.00" y2="821.30" stroke="#666" stroke-width="0.9"/>
<line x1="85.00" y1="817.90" x2="88.50" y2="817.90" stroke="#666" stroke-width="0.9"/>
<line x1="85.00" y1="814.50" x2="88.50" y2="814.50" stroke="#666" stroke-width="0.9"/>
<line x1="85.00" y1="811.10" x2="88.50" y2="811.10" stroke="#666" stroke-width="0.9"/>
<line x1="85.00" y1="807.70" x2="88.50" y2="807.70" stroke="#666" stroke-width="0.9"/>
<line x1="85.00" y1="804.30" x2="93.00" y2="804.30" stroke="#222" stroke-width="0.9"/>
<line x1="85.00" y1="800.90" x2="88.50" y2="800.90" stroke="#666" stroke-width="0.9"/>
<line x1="85.00" y1="797.50" x2="88.50" y2="797.50" stroke="#666" stroke-width="0.9"/>
<line x1="85.00" y1="794.10" x2="88.50" y2="794.10" stroke="#666" stroke-width="0.9"/>
<line x1="85.00" y1="790.70" x2="88.50" y2="790.70" stroke="#666" stroke-width="0.9"/>
<text x="78" y="910.7" font-size="12" text-anchor="end" fill="#333" font-weight="normal" >0</text>
<text x="78" y="876.7" font-size="12" text-anchor="end" fill="#333" font-weight="normal" >100</text>
<text x="78" y="842.7" font-size="12" text-anchor="end" fill="#333" font-weight="normal" >200</text>
<text x="78" y="808.7" font-size="12" text-anchor="end" fill="#333" font-weight="normal" >300</text>
<text x="164.2" y="927" font-size="12" fill="#333">1×10<tspan font-size="7" dy="-6">-6</tspan></text>
<line x1="181.60" y1="911.60" x2="181.60" y2="909.60" stroke="#333" stroke-width="0.9"/>
<line x1="181.60" y1="789.00" x2="181.60" y2="791.00" stroke="#333" stroke-width="0.9"/>
<text x="260.5" y="927" font-size="12" fill="#333">2×10<tspan font-size="7" dy="-6">-6</tspan></text>
<text x="356.8" y="927" font-size="12" fill="#333">3×10<tspan font-size="7" dy="-6">-6</tspan></text>
<text x="453.1" y="927" font-size="12" fill="#333">4×10<tspan font-size="7" dy="-6">-6</tspan></text>
<line x1="103.70" y1="788.50" x2="103.70" y2="790.00" stroke="#222" stroke-width="0.9"/>
<line x1="103.70" y1="910.60" x2="103.70" y2="912.10" stroke="#222" stroke-width="0.9"/>
<line x1="132.00" y1="788.50" x2="132.00" y2="790.00" stroke="#222" stroke-width="0.9"/>
<line x1="132.00" y1="910.60" x2="132.00" y2="912.10" stroke="#222" stroke-width="0.9"/>
<line x1="161.50" y1="788.50" x2="161.50" y2="790.00" stroke="#222" stroke-width="0.9"/>
<line x1="161.50" y1="910.60" x2="161.50" y2="912.10" stroke="#222" stroke-width="0.9"/>
<line x1="200.00" y1="788.50" x2="200.00" y2="790.00" stroke="#222" stroke-width="0.9"/>
<line x1="200.00" y1="910.60" x2="200.00" y2="912.10" stroke="#222" stroke-width="0.9"/>
<text transform="translate(35.8,850) rotate(-90)" font-size="13.33" text-anchor="middle" fill="#111" font-weight="bold">Histogram (a.u.)</text>
<polyline fill="none" stroke="#2e2e80" stroke-width="0.95" stroke-linejoin="round" points="85.6,892.7 86.0,792.4 86.6,819.6 87.0,800.9 87.6,833.2 88.2,828.1 89.0,862.1 90.0,885.2 91.5,897.5 93.0,902.6 95.0,904.9 97.0,903.2 99.0,904.3 101.0,905.4 103.3,905.6 105.6,905.0 107.9,905.7 110.2,905.1 112.5,905.4 114.8,905.7 117.1,905.2 119.4,905.8 121.7,905.3 124.0,905.7 126.3,905.7 128.6,905.3 130.9,904.8 133.2,905.7 135.5,905.5 137.8,905.0 140.1,904.6 142.4,905.1 144.7,905.3 147.0,904.6 149.3,905.8 151.6,904.7 153.9,905.4 156.2,905.6 158.5,905.7 160.8,905.4 163.1,904.8 165.4,905.6 167.7,905.1 170.0,905.0 172.3,905.3 174.6,905.1 176.9,905.7 179.2,905.7 181.5,905.6 183.8,904.9 186.1,905.3 188.4,905.4 190.7,905.1 193.0,905.2 195.3,905.4 197.6,904.8 199.9,904.9 202.2,905.5 204.5,905.1 206.8,905.1 209.1,904.7 211.4,904.9 213.7,905.5 216.0,904.6 218.3,905.7 220.6,905.3 222.9,904.8 225.2,905.6 227.5,905.2 229.8,905.8 232.1,905.0 234.4,904.8 236.7,905.1 239.0,904.7 241.3,905.4 243.6,904.9 245.9,905.1 248.2,905.1 250.5,905.2 252.8,904.7 255.1,904.6 257.4,905.2 259.7,905.0 262.0,905.7 264.3,904.9 266.6,905.0 268.9,904.5 271.2,904.8 273.5,905.5 275.8,905.3 278.1,905.0 280.4,905.8 282.7,905.2 285.0,905.6 287.3,905.7 289.6,905.7 291.9,904.8 294.2,905.7 296.5,905.5 298.8,905.3 301.1,904.7 303.4,905.7 305.7,905.2 308.0,905.1 310.3,904.7 312.6,904.8 314.9,904.7 317.2,905.5 319.5,905.3 321.8,905.4 324.1,904.7 326.4,904.6 328.7,905.6 331.0,905.6 333.3,905.5 335.6,905.5 337.9,905.2 340.2,905.1 342.5,905.5 344.8,905.8 347.1,905.3 349.4,905.3 351.7,905.1 354.0,904.6 356.3,904.9 358.6,905.2 360.9,905.0 363.2,905.0 365.5,905.8 367.8,904.7 370.1,904.8 372.4,904.7 374.7,904.8 377.0,905.3 379.3,905.3 381.6,905.7 383.9,905.0 386.2,905.7 388.5,905.7 390.8,905.6 393.1,905.6 395.4,905.4 397.7,905.8 400.2,905.0 404.0,902.0 408.5,895.0 410.0,888.0 411.0,882.0 413.0,876.0 415.0,870.0 418.1,863.0 419.2,870.0 420.2,876.0 422.0,877.5 423.6,879.0 425.0,889.0 427.0,897.0 428.6,902.8 432.0,904.5 434.0,905.8 436.3,905.6 438.6,905.7 440.9,905.4 443.2,905.8 445.5,904.7 447.8,905.1 450.1,905.6 452.4,905.5 454.7,905.4 457.0,905.4 459.3,905.6 461.6,904.8 463.9,904.6 466.2,905.2 468.5,905.2 470.8,905.7 473.1,905.7 475.4,905.4 477.7,905.5 480.0,904.8 482.3,905.6 484.6,905.8 486.9,904.7 489.2,905.2 491.5,905.6 493.8,905.1 496.1,906.3 498.4,905.7 500.7,905.1 503.0,905.3 505.3,905.5 507.6,906.0 509.9,905.9 512.2,906.1 514.0,905.8"/>
<line x1="336.70" y1="850.40" x2="382.60" y2="850.40" stroke="#fff" stroke-width="1.1"/>
<line x1="359.80" y1="841.00" x2="359.80" y2="855.40" stroke="#fff" stroke-width="1.3"/>
<rect x="0" y="956.6" width="1880" height="1.4" fill="#1f3a70"/><rect x="1878.7" y="0" width="1.3" height="958" fill="#2c4a86"/>
<line x1="1760.00" y1="10.50" x2="1770.50" y2="10.50" stroke="#777" stroke-width="0.9"/>
<rect x="1805.5" y="7.5" width="7" height="7" fill="none" stroke="#777" stroke-width="0.9"/>
<path d="M1807.5,7.5 V5.5 H1814.5 V12.5 H1812.5" fill="none" stroke="#777" stroke-width="0.9"/>
<path d="M1851,5 L1861,15 M1861,5 L1851,15" stroke="#666" stroke-width="0.9" fill="none"/>
<defs>
<linearGradient id="fold" x1="0" y1="0" x2="1" y2="1"><stop offset="0" stop-color="#f9dc58"/><stop offset="1" stop-color="#eab62a"/></linearGradient>
<linearGradient id="lens" x1="0" y1="0" x2="0" y2="1"><stop offset="0" stop-color="#8fb4d6"/><stop offset="0.45" stop-color="#c2daee"/><stop offset="1" stop-color="#eef4f8"/></linearGradient>
<linearGradient id="lrect" x1="0" y1="0" x2="0" y2="1"><stop offset="0" stop-color="#7faedb"/><stop offset="1" stop-color="#d4e8f8"/></linearGradient>
<linearGradient id="rain" x1="0" y1="0" x2="0" y2="1"><stop offset="0" stop-color="#e02020"/><stop offset="0.2" stop-color="#f8a010"/><stop offset="0.35" stop-color="#e8e020"/><stop offset="0.5" stop-color="#50b820"/><stop offset="0.7" stop-color="#18a8c8"/><stop offset="0.85" stop-color="#1858c0"/><stop offset="1" stop-color="#3a3aa0"/></linearGradient>
<linearGradient id="gold" x1="0" y1="0" x2="1" y2="1"><stop offset="0" stop-color="#dcb832"/><stop offset="0.55" stop-color="#b48e18"/><stop offset="1" stop-color="#8e6e0c"/></linearGradient>
<clipPath id="wv"><rect x="257" y="710" width="32" height="31"/></clipPath>
<filter id="ib" x="-20%" y="-20%" width="140%" height="140%"><feGaussianBlur stdDeviation="0.5"/></filter>
</defs>
<rect x="2.4" y="4.2" width="15.4" height="13" rx="1.6" fill="#53575c"/>
<rect x="2.6" y="5.6" width="9.6" height="10.4" fill="#5a80a6"/>
<rect x="12" y="6.6" width="4.4" height="9.4" fill="#e6e2e3"/>
<circle cx="6.2" cy="8.3" r="1.7" fill="#b4cfe6" opacity="0.9"/><ellipse cx="6.4" cy="14.6" rx="2.6" ry="1.4" fill="#cfe2f2"/>
<path d="M3.5,12 L9,7.5 L11,12.5 L8,15.5 Z" fill="#3f6288" opacity="0.8"/><circle cx="11.4" cy="9.6" r="1" fill="#141c28"/>
<path d="M11.5,40.5 L18.5,39.8 L20,41.5 L33,41 L33,44 L14.5,58.5 Z" fill="#e6b228"/>
<path d="M19.5,43.8 L39.8,42.2 L34.4,56.2 L14.4,59.6 Z" fill="url(#fold)" stroke="#d9a820" stroke-width="0.6"/>
<path d="M11.5,40.5 L14.4,59.6 L19.5,43.8" fill="#f3c838" opacity="0.9"/>
<path d="M22,46 L17.5,58" stroke="#fbe88a" stroke-width="1" opacity="0.8"/>
<path d="M26.3,37.5 A3.4,3.4 0 0 1 32.3,38.5" fill="none" stroke="#1a1a2a" stroke-width="1.1"/><circle cx="32" cy="39.8" r="1.3" fill="#1a1a2a"/>
<path d="M58.5,40.2 A11.3,11.3 0 1 1 62.6,58.9" fill="none" stroke="#2a2848" stroke-width="3.6"/>
<path d="M52.3,44.7 L56.2,34.4 L64.2,43.2 Z" fill="#2a2848"/>
<path d="M110.8,40.2 A11.3,11.3 0 1 0 106.7,58.9" fill="none" stroke="#9a9a9a" stroke-width="3.6"/>
<path d="M117.3,44.7 L113.4,34.4 L105.4,43.2 Z" fill="#9a9a9a"/>
<rect x="18.5" y="710.5" width="31.5" height="30" fill="none" stroke="#b42c2c" stroke-width="0.85" stroke-dasharray="3.6 2.4"/>
<rect x="20" y="723.5" width="25.5" height="3" fill="#1a1a1a"/><rect x="32" y="712.5" width="3" height="25.5" fill="#1a1a1a"/>
<path d="M79.3,729.5 L89.3,739.5" stroke="#b8b8b8" stroke-width="3" stroke-linecap="round"/>
<path d="M80.3,729.5 L89.8,739" stroke="#555" stroke-width="1.2" stroke-linecap="round"/>
<circle cx="70.8" cy="721" r="12" fill="url(#lens)" stroke="#a8b8c4" stroke-width="1.2"/>
<rect x="62.3" y="715" width="17.5" height="11.5" fill="url(#lrect)" stroke="#2d5a80" stroke-width="1.1"/>
<rect x="62.3" y="715" width="17.5" height="2" fill="#5a8ab8"/>
<path d="M119.1,729.5 L129.1,739.5" stroke="#b8b8b8" stroke-width="3" stroke-linecap="round"/>
<path d="M120.1,729.5 L129.6,739" stroke="#555" stroke-width="1.2" stroke-linecap="round"/>
<circle cx="110.6" cy="721" r="12" fill="url(#lens)" stroke="#a8b8c4" stroke-width="1.2"/>
<rect x="102.1" y="715.5" width="17" height="11" fill="#c6dcee" stroke="#26384a" stroke-width="1.1"/>
<path d="M103.6,717.0 L117.6,725.0 M117.6,717.0 L103.6,725.0" stroke="#1c2c3c" stroke-width="1"/>
<path d="M103.6,717.0 L106.6,717.0 L103.6,719.4 Z" fill="#1c2c3c"/>
<path d="M117.6,717.0 L114.6,717.0 L117.6,719.4 Z" fill="#1c2c3c"/>
<path d="M103.6,725.0 L106.6,725.0 L103.6,722.6 Z" fill="#1c2c3c"/>
<path d="M117.6,725.0 L114.6,725.0 L117.6,722.6 Z" fill="#1c2c3c"/>
<path d="M684.0,617.5 L694.0,627.5" stroke="#b8b8b8" stroke-width="3" stroke-linecap="round"/>
<path d="M685.0,617.5 L694.5,627" stroke="#555" stroke-width="1.2" stroke-linecap="round"/>
<circle cx="675.5" cy="609" r="12" fill="url(#lens)" stroke="#a8b8c4" stroke-width="1.2"/>
<rect x="667.0" y="603.5" width="17" height="11" fill="#c6dcee" stroke="#26384a" stroke-width="1.1"/>
<path d="M668.5,605.0 L682.5,613.0 M682.5,605.0 L668.5,613.0" stroke="#1c2c3c" stroke-width="1"/>
<path d="M668.5,605.0 L671.5,605.0 L668.5,607.4 Z" fill="#1c2c3c"/>
<path d="M682.5,605.0 L679.5,605.0 L682.5,607.4 Z" fill="#1c2c3c"/>
<path d="M668.5,613.0 L671.5,613.0 L668.5,610.6 Z" fill="#1c2c3c"/>
<path d="M682.5,613.0 L679.5,613.0 L682.5,610.6 Z" fill="#1c2c3c"/>
<rect x="156" y="712" width="8.3" height="26.8" fill="url(#rain)"/>
<path d="M143,713 L155,716.3 L143,718.6 Z" fill="#e02828"/><path d="M143,732.6 L155,735 L143,738 Z" fill="#1c3ca8"/>
<path d="M145,720 L155,718.5 L155,732.5 L145,731 Z" fill="#b4cfe0" opacity="0.8"/><path d="M141,724 L146,722 L146,729 L141,727 Z" fill="#d8e6ee" opacity="0.8"/>
<path d="M193.12,711.75 A13.5,13.5 0 0 1 200.22,713.07 L196.18,721.34 A4.3,4.3 0 0 0 193.93,720.92 Z" fill="#e8281e"/>
<path d="M200.01,712.96 A13.5,13.5 0 0 1 205.49,717.65 L197.86,722.80 A4.3,4.3 0 0 0 196.12,721.30 Z" fill="#f4701a"/>
<path d="M205.36,717.46 A13.5,13.5 0 0 1 207.77,724.26 L198.59,724.90 A4.3,4.3 0 0 0 197.82,722.73 Z" fill="#f8b010"/>
<path d="M207.75,724.02 A13.5,13.5 0 0 1 206.43,731.12 L198.16,727.08 A4.3,4.3 0 0 0 198.58,724.83 Z" fill="#f0e018"/>
<path d="M206.54,730.91 A13.5,13.5 0 0 1 201.85,736.39 L196.70,728.76 A4.3,4.3 0 0 0 198.20,727.02 Z" fill="#98d020"/>
<path d="M202.04,736.26 A13.5,13.5 0 0 1 195.24,738.67 L194.60,729.49 A4.3,4.3 0 0 0 196.77,728.72 Z" fill="#30b030"/>
<path d="M195.48,738.65 A13.5,13.5 0 0 1 188.38,737.33 L192.42,729.06 A4.3,4.3 0 0 0 194.67,729.48 Z" fill="#18a890"/>
<path d="M188.59,737.44 A13.5,13.5 0 0 1 183.11,732.75 L190.74,727.60 A4.3,4.3 0 0 0 192.48,729.10 Z" fill="#1898d0"/>
<path d="M183.24,732.94 A13.5,13.5 0 0 1 180.83,726.14 L190.01,725.50 A4.3,4.3 0 0 0 190.78,727.67 Z" fill="#1860c8"/>
<path d="M180.85,726.38 A13.5,13.5 0 0 1 182.17,719.28 L190.44,723.32 A4.3,4.3 0 0 0 190.02,725.57 Z" fill="#3030b0"/>
<path d="M182.06,719.49 A13.5,13.5 0 0 1 186.75,714.01 L191.90,721.64 A4.3,4.3 0 0 0 190.40,723.38 Z" fill="#7820a8"/>
<path d="M186.56,714.14 A13.5,13.5 0 0 1 193.36,711.73 L194.00,720.91 A4.3,4.3 0 0 0 191.83,721.68 Z" fill="#c81890"/>
<rect x="219" y="712" width="28" height="27" fill="#eadfca"/>
<rect x="220" y="713.0" width="5" height="5" fill="#f4ecdc" opacity="0.9"/>
<rect x="220.5" y="720.0" width="4" height="4" fill="#dccfb4" opacity="0.7"/>
<rect x="220" y="726.0" width="5" height="5" fill="#f4ecdc" opacity="0.9"/>
<rect x="220.5" y="733.0" width="4" height="4" fill="#dccfb4" opacity="0.7"/>
<rect x="227.5" y="713.5" width="4" height="4" fill="#dccfb4" opacity="0.7"/>
<rect x="227" y="719.5" width="5" height="5" fill="#f4ecdc" opacity="0.9"/>
<rect x="227.5" y="726.5" width="4" height="4" fill="#dccfb4" opacity="0.7"/>
<rect x="227" y="732.5" width="5" height="5" fill="#f4ecdc" opacity="0.9"/>
<rect x="234" y="713.0" width="5" height="5" fill="#f4ecdc" opacity="0.9"/>
<rect x="234.5" y="720.0" width="4" height="4" fill="#dccfb4" opacity="0.7"/>
<rect x="234" y="726.0" width="5" height="5" fill="#f4ecdc" opacity="0.9"/>
<rect x="234.5" y="733.0" width="4" height="4" fill="#dccfb4" opacity="0.7"/>
<rect x="241.5" y="713.5" width="4" height="4" fill="#dccfb4" opacity="0.7"/>
<rect x="241" y="719.5" width="5" height="5" fill="#f4ecdc" opacity="0.9"/>
<rect x="241.5" y="726.5" width="4" height="4" fill="#dccfb4" opacity="0.7"/>
<rect x="241" y="732.5" width="5" height="5" fill="#f4ecdc" opacity="0.9"/>
<rect x="257" y="710" width="32" height="31" fill="#fff"/>
<clipPath id="wq0"><rect x="257" y="710" width="16" height="15.5"/></clipPath>
<g clip-path="url(#wq0)" fill="none" stroke="#1c1c6c" stroke-width="1.45">
<circle cx="257" cy="710" r="2.2"/>
<circle cx="257" cy="710" r="5.1"/>
<circle cx="257" cy="710" r="8.0"/>
<circle cx="257" cy="710" r="10.9"/>
<circle cx="257" cy="710" r="13.8"/>
<circle cx="257" cy="710" r="16.7"/>
<circle cx="257" cy="710" r="19.6"/>
<circle cx="257" cy="710" r="22.5"/>
</g>
<clipPath id="wq1"><rect x="273" y="710" width="16" height="15.5"/></clipPath>
<g clip-path="url(#wq1)" fill="none" stroke="#1c1c6c" stroke-width="1.45">
<circle cx="289" cy="710" r="2.2"/>
<circle cx="289" cy="710" r="5.1"/>
<circle cx="289" cy="710" r="8.0"/>
<circle cx="289" cy="710" r="10.9"/>
<circle cx="289" cy="710" r="13.8"/>
<circle cx="289" cy="710" r="16.7"/>
<circle cx="289" cy="710" r="19.6"/>
<circle cx="289" cy="710" r="22.5"/>
</g>
<clipPath id="wq2"><rect x="257" y="725.5" width="16" height="15.5"/></clipPath>
<g clip-path="url(#wq2)" fill="none" stroke="#1c1c6c" stroke-width="1.45">
<circle cx="257" cy="741" r="2.2"/>
<circle cx="257" cy="741" r="5.1"/>
<circle cx="257" cy="741" r="8.0"/>
<circle cx="257" cy="741" r="10.9"/>
<circle cx="257" cy="741" r="13.8"/>
<circle cx="257" cy="741" r="16.7"/>
<circle cx="257" cy="741" r="19.6"/>
<circle cx="257" cy="741" r="22.5"/>
</g>
<clipPath id="wq3"><rect x="273" y="725.5" width="16" height="15.5"/></clipPath>
<g clip-path="url(#wq3)" fill="none" stroke="#1c1c6c" stroke-width="1.45">
<circle cx="289" cy="741" r="2.2"/>
<circle cx="289" cy="741" r="5.1"/>
<circle cx="289" cy="741" r="8.0"/>
<circle cx="289" cy="741" r="10.9"/>
<circle cx="289" cy="741" r="13.8"/>
<circle cx="289" cy="741" r="16.7"/>
<circle cx="289" cy="741" r="19.6"/>
<circle cx="289" cy="741" r="22.5"/>
</g>
<path d="M273,722.3 L276.4,725.5 L273,728.7 L269.6,725.5 Z" fill="#fff" stroke="#1c1c6c" stroke-width="1.1"/>
<rect x="257.6" y="710.6" width="30.8" height="29.8" fill="none" stroke="#1c1c6c" stroke-width="1.2"/>
<rect x="297.5" y="710.3" width="31" height="30" rx="1.5" fill="#e9e5e1" stroke="#444" stroke-width="1.2"/>
<path d="M305,732.5 L321.5,716.5" stroke="#222" stroke-width="1.3"/>
<rect x="-2.6" y="-2" width="5.2" height="4" fill="#f4f2f0" stroke="#222" stroke-width="0.9" transform="translate(304.5,733.5) rotate(-45)"/>
<rect x="-2.6" y="-2" width="5.2" height="4" fill="#f4f2f0" stroke="#222" stroke-width="0.9" transform="translate(322,716) rotate(-45)"/>
<g transform="translate(343,712) scale(1.0)">
<path d="M5,1 L19,0 L25,6 L25,24 L6,27.5 Z" fill="#4cb982"/>
<path d="M5,1 L8,13 L6,27.5 Z" fill="#2f9a68"/>
<path d="M19,0 L25,6 L19.5,6.5 Z" fill="#e8d8d8"/>
<path d="M0.5,11.5 L9,10.5 L9,8 L17,13.5 L9.5,20.5 L9.3,17.5 L1,18.5 Z" fill="#3a84cc" stroke="#1e4468" stroke-width="0.7" stroke-linejoin="round"/>
<path d="M0.5,11.5 L9,10.5 L9,8 L17,13.5 L0.8,14.5 Z" fill="#24588e" opacity="0.65"/>
</g>
<g transform="translate(1003,602) scale(1.0)">
<path d="M5,1 L19,0 L25,6 L25,24 L6,27.5 Z" fill="#4cb982"/>
<path d="M5,1 L8,13 L6,27.5 Z" fill="#2f9a68"/>
<path d="M19,0 L25,6 L19.5,6.5 Z" fill="#e8d8d8"/>
<path d="M0.5,11.5 L9,10.5 L9,8 L17,13.5 L9.5,20.5 L9.3,17.5 L1,18.5 Z" fill="#3a84cc" stroke="#1e4468" stroke-width="0.7" stroke-linejoin="round"/>
<path d="M0.5,11.5 L9,10.5 L9,8 L17,13.5 L0.8,14.5 Z" fill="#24588e" opacity="0.65"/>
</g>
<rect x="383.5" y="710.5" width="31.5" height="30" rx="2" fill="#fdfdfd" stroke="#444" stroke-width="1.2"/>
<text x="384.5" y="727" font-size="19" fill="#e0707c" font-family="Liberation Sans,sans-serif">R</text>
<text x="391" y="733" font-size="19" fill="#5a9062" font-family="Liberation Sans,sans-serif">G</text>
<text x="400.5" y="739.5" font-size="19" fill="#8088b2" font-family="Liberation Sans,sans-serif">B</text>
<path d="M439,713 C441,720 447,727 453.5,730 L437,737.5 L425.5,726.5 C432,724 437,720 439,713 Z" fill="url(#gold)"/>
<path d="M439,713 C439.5,722 438,731 437,737.5 L425.5,726.5 C432,724.5 437.5,720 439,713 Z" fill="#d4ae28" opacity="0.85"/>
<path d="M439,713 C439.5,722 438,731 437,737.5" stroke="#f0d860" stroke-width="0.8" fill="none"/>
</svg>
</body></html>
